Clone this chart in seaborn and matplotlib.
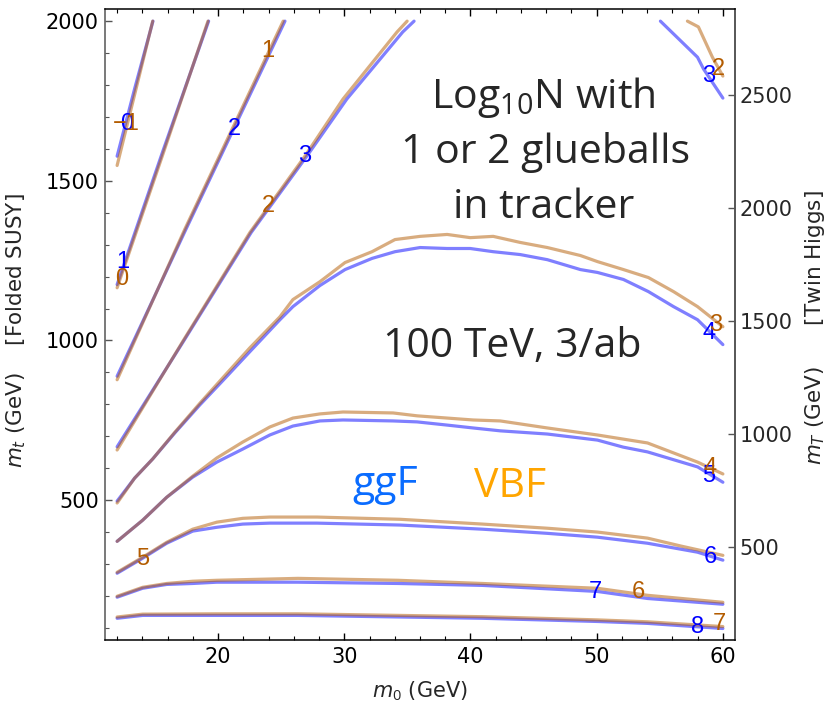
import numpy as np
import pandas as pd
import matplotlib
matplotlib.use("Agg")
import matplotlib.pyplot as plt
import seaborn as sns
from matplotlib.ticker import MultipleLocator, FixedLocator

# ------------------------------------------------------------------
# Contours of log10 N (events with 1 or 2 glueballs in the tracker),
# 100 TeV, 3/ab.  Each contour is a list of (m0, m_t) points in GeV.
# ------------------------------------------------------------------

# ggF production
GGF_LEVELS = ["0", "1", "2", "3", "3", "4", "5", "6", "7", "8"]
GGF_0_M0 = [12.0, 13.4, 14.84]
GGF_0_MT = [1577, 1790, 2000]
GGF_1_M0 = [12.0, 15.6, 19.25]
GGF_1_MT = [1175, 1590, 2000]
GGF_2_M0 = [12.0, 17.45, 25.3]
GGF_2_MT = [888, 1348, 2000]
GGF_3_M0 = [12.0, 17.33, 22.62, 27.03, 30.2, 34.63, 35.53]
GGF_3_MT = [667, 1002, 1338, 1577, 1756, 1966, 2000]
GGF_3B_M0 = [55.05, 57.99, 58.47, 60.0]
GGF_3B_MT = [2000, 1887, 1850, 1759]
GGF_4_M0 = [12.0, 13.39, 14.82, 16.56, 18.55, 20.37, 22.52, 24.90, 25.93,
            28.07, 30.06, 32.20, 34.02, 36.01, 38.15, 39.98, 41.80, 43.94,
            46.09, 48.71, 50.06, 52.12, 54.10, 56.09, 57.99, 60.0]
GGF_4_MT = [497, 569, 629, 710, 798, 874, 965, 1065, 1106, 1172, 1222, 1257,
            1278, 1291, 1288, 1288, 1278, 1269, 1253, 1222, 1213, 1191, 1153,
            1106, 1065, 987]
GGF_5_M0 = [12.0, 14.02, 15.93, 17.99, 19.90, 21.96, 24.10, 25.93, 28.07,
            29.90, 33.87, 35.77, 38.15, 40.21, 42.36, 46.09, 50.06, 52.1,
            54.03, 58.00, 60.0]
GGF_5_MT = [371, 437, 509, 572, 619, 660, 704, 732, 748, 751, 748, 745, 735,
            726, 717, 707, 688, 666, 651, 604, 556]
GGF_6_M0 = [12.0, 14.02, 15.93, 17.99, 19.90, 21.96, 24.10, 27.83, 34.42,
            40.95, 46.09, 50.06, 54.03, 57.99, 60.0]
GGF_6_MT = [271, 318, 365, 403, 415, 425, 428, 428, 422, 409, 396, 384, 365,
            337, 312]
GGF_7_M0 = [12.0, 14.02, 15.93, 17.99, 19.90, 26.33, 34.26, 40.95, 50.06,
            54.03, 60.0]
GGF_7_MT = [196, 224, 236, 239, 243, 243, 239, 233, 214, 192, 174]
GGF_8_M0 = [12.0, 14.02, 19.9, 26.33, 40.95, 50.06, 54.03, 60.0]
GGF_8_MT = [130, 139, 139, 139, 130, 120, 114, 98]

# VBF production
VBF_LEVELS = ["\u22121", "0", "1", "2", "2", "3", "4", "5", "6", "7"]
VBF_M1_M0 = [12.0, 13.4, 14.82]
VBF_M1_MT = [1548, 1772, 2000]
VBF_0_M0 = [12.0, 15.6, 19.2]
VBF_0_MT = [1165, 1580, 2000]
VBF_1_M0 = [12.0, 17.36, 25.16]
VBF_1_MT = [877, 1348, 2000]
VBF_2_M0 = [12.0, 17.28, 22.52, 26.88, 29.9, 34.18, 34.98]
VBF_2_MT = [657, 1002, 1338, 1577, 1756, 1966, 2000]
VBF_2B_M0 = [57.19, 58.06, 59.17, 60.0]
VBF_2B_MT = [2000, 1982, 1887, 1828]
VBF_3_M0 = GGF_4_M0
VBF_3_MT = [491, 569, 629, 712, 803, 883, 977, 1074, 1128, 1184, 1244, 1278,
            1316, 1326, 1332, 1322, 1326, 1307, 1291, 1266, 1247, 1222, 1197,
            1153, 1106, 1043]
VBF_4_M0 = [12.0, 14.02, 15.93, 17.99, 19.90, 21.96, 24.10, 25.93, 28.07,
            29.90, 33.87, 35.77, 38.15, 40.21, 42.36, 46.09, 50.06, 54.03,
            58.00, 60.0]
VBF_4_MT = [371, 437, 509, 575, 632, 682, 729, 757, 770, 776, 773, 764, 757,
            751, 748, 726, 704, 679, 619, 582]
VBF_5_M0 = [12.0, 14.02, 15.93, 17.99, 19.90, 21.96, 24.10, 27.83, 34.42,
            40.95, 46.09, 50.06, 54.03, 56.7, 60.0]
VBF_5_MT = [274, 321, 368, 409, 431, 443, 447, 447, 440, 425, 412, 400, 381,
            356, 327]
VBF_6_M0 = GGF_7_M0
VBF_6_MT = [199, 227, 239, 246, 249, 255, 249, 239, 224, 202, 180]
VBF_7_M0 = GGF_8_M0
VBF_7_MT = [134, 143, 144, 144, 135, 125, 119, 104]

GGF_LINES = [(GGF_0_M0, GGF_0_MT), (GGF_1_M0, GGF_1_MT), (GGF_2_M0, GGF_2_MT),
             (GGF_3_M0, GGF_3_MT), (GGF_3B_M0, GGF_3B_MT), (GGF_4_M0, GGF_4_MT),
             (GGF_5_M0, GGF_5_MT), (GGF_6_M0, GGF_6_MT), (GGF_7_M0, GGF_7_MT),
             (GGF_8_M0, GGF_8_MT)]
VBF_LINES = [(VBF_M1_M0, VBF_M1_MT), (VBF_0_M0, VBF_0_MT), (VBF_1_M0, VBF_1_MT),
             (VBF_2_M0, VBF_2_MT), (VBF_2B_M0, VBF_2B_MT), (VBF_3_M0, VBF_3_MT),
             (VBF_4_M0, VBF_4_MT), (VBF_5_M0, VBF_5_MT), (VBF_6_M0, VBF_6_MT),
             (VBF_7_M0, VBF_7_MT)]

# long-form table of all contour points
rows = []
for proc, lines, levels in (("ggF", GGF_LINES, GGF_LEVELS),
                            ("VBF", VBF_LINES, VBF_LEVELS)):
    for seg, ((xs, ys), lev) in enumerate(zip(lines, levels)):
        for order, (x, y) in enumerate(zip(xs, ys)):
            rows.append(dict(process=proc, segment=seg, level=lev,
                             order=order, m0=x, mt=y))
contours = pd.DataFrame(rows)

# ------------------------------------------------------------------
sns.set_theme(style="white")
plt.rcParams["font.family"] = ["DejaVu Sans"]
plt.rcParams["mathtext.fontset"] = "custom"
plt.rcParams["mathtext.rm"] = "Open Sans"
plt.rcParams["mathtext.it"] = "DejaVu Sans:italic"

W, H = 833, 710
fig = plt.figure(figsize=(W / 100, H / 100), dpi=100, facecolor="white")
ax = fig.add_axes([105 / W, 1 - 640 / H, 630 / W, 631 / H])

line_style = {"ggF": dict(color="#0000ff", alpha=0.5),
              "VBF": dict(color="#b35a00", alpha=0.5)}
label_color = {"ggF": "#0000ff", "VBF": "#b35c00"}

for proc in ("ggF", "VBF"):
    sub = contours[contours.process == proc]
    for seg, grp in sub.groupby("segment"):
        sns.lineplot(data=grp.sort_values("order"), x="m0", y="mt",
                     sort=False, estimator=None, ax=ax, lw=2.3,
                     solid_joinstyle="round", **line_style[proc])

# contour level labels (placed along the lines)
ggf_label_pos = [(12.79, 1677), (12.44, 1247), (21.33, 1661), (26.88, 1578),
                 (58.89, 1829), (58.89, 1023), (58.84, 575), (59.02, 322),
                 (49.9, 212), (57.97, 104)]
vbf_label_pos = [(12.71, 1677), (12.33, 1191), (23.97, 1906), (23.97, 1421),
                 (59.68, 1850), (59.42, 1049), (58.97, 600), (14.0, 317),
                 (53.33, 212), (59.76, 113)]
for proc, levels, pos in (("ggF", GGF_LEVELS, ggf_label_pos),
                          ("VBF", VBF_LEVELS, vbf_label_pos)):
    for lev, (x, y) in zip(levels, pos):
        ax.text(x, y, lev, color=label_color[proc], fontsize=17,
                family=["Liberation Sans", "DejaVu Sans"],
                ha="center", va="center", zorder=5)

# axes ranges and frame
ax.set_xlim(11.04, 60.96)
ax.set_ylim(62, 2038)
ax.xaxis.set_major_locator(MultipleLocator(10))
ax.xaxis.set_minor_locator(MultipleLocator(2))
ax.yaxis.set_major_locator(MultipleLocator(500))
ax.yaxis.set_minor_locator(MultipleLocator(100))
ax.tick_params(axis="x", which="both", direction="in", top=True, bottom=True,
               color="black", labelsize=15, labelcolor="black", pad=5)
ax.tick_params(axis="x", which="major", length=5, width=1)
ax.tick_params(axis="x", which="minor", length=2.7, width=0.8)
ax.tick_params(axis="y", which="both", direction="in", left=True, right=False,
               color="#555555", labelsize=15, labelcolor="black", pad=4.5)
ax.tick_params(axis="y", which="major", length=5, width=1)
ax.tick_params(axis="y", which="minor", length=2.7, width=0.8)
for side in ("top", "bottom"):
    ax.spines[side].set_color("black")
    ax.spines[side].set_linewidth(1.1)
for side in ("left", "right"):
    ax.spines[side].set_color("#555555")
    ax.spines[side].set_linewidth(1.1)

ax.set_xlabel("$m_0$ (GeV)", fontsize=15, labelpad=9)
ax.set_ylabel("$m_t$ (GeV)    [Folded SUSY]", fontsize=15.5)
ax.yaxis.set_label_coords(-0.122, 0.49)

# Twin Higgs top-partner mass on the right: m_T = sqrt(2) m_t
sec = ax.secondary_yaxis("right", functions=(lambda y: y * np.sqrt(2),
                                             lambda y: y / np.sqrt(2)))
sec.yaxis.set_major_locator(FixedLocator([500, 1000, 1500, 2000, 2500]))
sec.yaxis.set_minor_locator(FixedLocator([]))
sec.tick_params(axis="y", which="major", direction="in", length=4.8,
                width=1, color="#555555", labelsize=15, pad=3.5)
sec.spines["right"].set_color("#555555")
fig.text(815 / W, 1 - 328 / H, "$m_T$ (GeV)      [Twin Higgs]",
         fontsize=15.5, rotation=90, ha="center", va="center")

# annotations
big = dict(family=["Open Sans", "DejaVu Sans"], fontsize=29.5,
           ha="center", va="baseline")
fig.text(543 / W, 1 - 108 / H, "Log$_{10}$N with", **big)
fig.text(546 / W, 1 - 163 / H, "1 or 2 glueballs", **big)
fig.text(544 / W, 1 - 218 / H, "in tracker", **big)
fig.text(512 / W, 1 - 357 / H, "100 TeV, 3/ab", **big)
fig.text(385 / W, 1 - 495 / H, "ggF", color="#0a6cff", **big)
fig.text(510 / W, 1 - 497 / H, "VBF", color="#ffa500", **big)

fig.savefig("out.png", dpi=100, facecolor="white")
